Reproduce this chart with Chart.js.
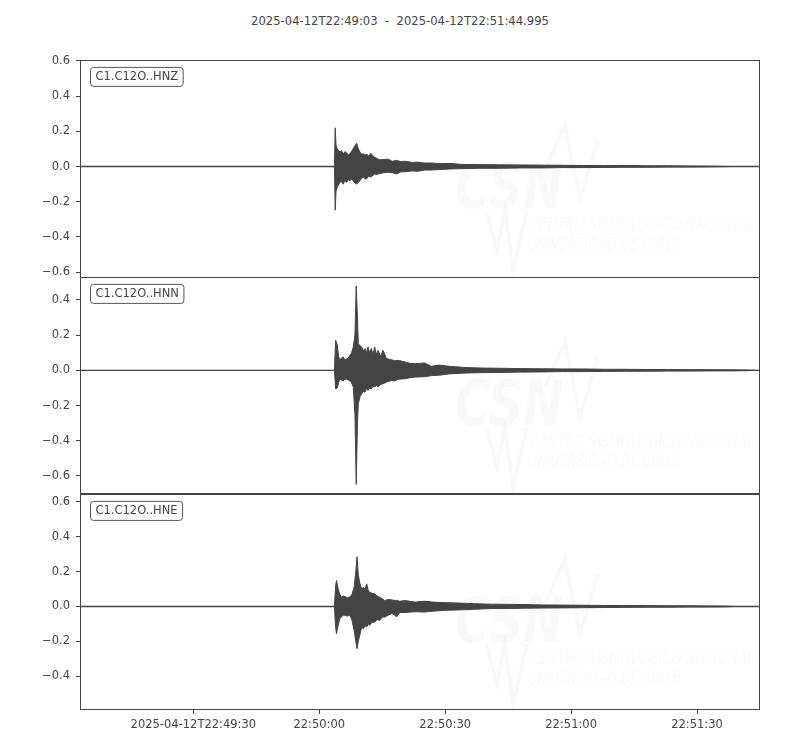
<!DOCTYPE html>
<html>
<head>
<meta charset="utf-8">
<script src="https://cdn.jsdelivr.net/npm/chart.js@4"></script>
<style>
  body { margin: 0; background: #fff; width: 800px; height: 750px; position: relative; overflow: hidden; }
  .panel { position: absolute; left: 0; width: 800px; }
  #title { position: absolute; top: 14px; left: 0; width: 800px; text-align: center;
           font: 11.6px "DejaVu Sans"; color: #444; white-space: pre; }
</style>
</head>
<body>
<div id="title">2025-04-12T22:49:03  -  2025-04-12T22:51:44.995</div>
<div class="panel" style="top:47px;height:244px"><canvas id="c0"></canvas></div>
<div class="panel" style="top:264px;height:243px"><canvas id="c1"></canvas></div>
<div class="panel" style="top:481px;height:269px"><canvas id="c2"></canvas></div>
<script>
// seconds after 2025-04-12T22:49:03
const traceEnd = 161.995;
const xTicks = [27, 57, 87, 117, 147];
const xTickLabels = ['2025-04-12T22:49:30', '22:50:00', '22:50:30', '22:51:00', '22:51:30'];

const channels = ['C1.C12O..HNZ', 'C1.C12O..HNN', 'C1.C12O..HNE'];

// envelope of each trace (time, upper, lower)
const hnzTime = [60.6, 60.8, 61.0, 61.3, 61.9, 62.3, 62.7, 63.1, 63.5, 63.9, 64.3, 64.8, 65.3, 65.9, 66.3, 66.7,
  67.1, 67.5, 67.9, 68.3, 68.8, 69.3, 69.8, 70.2, 70.8, 71.4, 72.4, 73.4, 74.4, 75.4, 76.4, 77.4, 79.0, 80.5,
  82.0, 83.7, 86, 88, 91, 95, 100, 105, 110, 115, 120, 125, 130, 135, 140, 145, 150, 155];
const hnzUpper = [0, 0.22, 0.12, 0.10, 0.082, 0.09, 0.072, 0.085, 0.078, 0.065, 0.072, 0.09, 0.11, 0.133, 0.10, 0.082,
  0.07, 0.072, 0.065, 0.07, 0.06, 0.075, 0.06, 0.053, 0.045, 0.038, 0.04, 0.042, 0.03, 0.035, 0.028, 0.03, 0.024, 0.025,
  0.02, 0.02, 0.016, 0.018, 0.012, 0.011, 0.01, 0.009, 0.008, 0.007, 0.006, 0.005, 0.006, 0.004, 0.004, 0.003, 0.002, 0];
const hnzLower = [0, -0.248, -0.14, -0.118, -0.09, -0.085, -0.10, -0.08, -0.09, -0.075, -0.08, -0.07, -0.09, -0.10, -0.09, -0.08,
  -0.065, -0.06, -0.07, -0.07, -0.055, -0.06, -0.05, -0.042, -0.045, -0.04, -0.035, -0.032, -0.035, -0.042, -0.03, -0.03, -0.025, -0.027,
  -0.02, -0.02, -0.017, -0.014, -0.012, -0.01, -0.01, -0.008, -0.008, -0.006, -0.006, -0.005, -0.004, -0.004, -0.003, -0.003, -0.002, 0];

const hnnTime = [60.6, 60.9, 61.3, 61.6, 61.9, 62.3, 62.7, 63.1, 63.5, 63.9, 64.3, 64.7, 65.1, 65.5, 65.8, 66.1, 66.3,
  66.7, 67.1, 67.5, 67.9, 68.3, 68.6, 69.0, 69.4, 69.8, 70.2, 70.6, 71.0, 71.6, 72.2, 73.0, 74.2, 75.0, 75.8, 77.4,
  78.6, 79.8, 82.1, 83.7, 85.5, 88, 92, 96, 100, 105, 110, 115, 120, 125, 130, 135, 140, 145, 150, 155, 159, 161];
const hnnUpper = [0, 0.171, 0.143, 0.08, 0.057, 0.07, 0.076, 0.06, 0.065, 0.07, 0.086, 0.10, 0.133, 0.2, 0.48, 0.3, 0.152,
  0.14, 0.133, 0.11, 0.124, 0.1, 0.133, 0.1, 0.124, 0.09, 0.133, 0.09, 0.114, 0.08, 0.114, 0.067, 0.06, 0.055, 0.057, 0.048,
  0.04, 0.038, 0.042, 0.023, 0.03, 0.023, 0.016, 0.013, 0.012, 0.01, 0.009, 0.008, 0.008, 0.006, 0.006, 0.005, 0.005, 0.004, 0.004, 0.003, 0.002, 0];
const hnnLower = [0, -0.105, -0.10, -0.07, -0.048, -0.055, -0.06, -0.05, -0.05, -0.055, -0.06, -0.07, -0.095, -0.25, -0.648, -0.3, -0.19,
  -0.15, -0.133, -0.12, -0.124, -0.1, -0.114, -0.1, -0.105, -0.09, -0.095, -0.085, -0.095, -0.08, -0.076, -0.067, -0.057, -0.06, -0.05, -0.048,
  -0.042, -0.038, -0.036, -0.03, -0.028, -0.02, -0.015, -0.013, -0.012, -0.01, -0.009, -0.007, -0.007, -0.006, -0.005, -0.005, -0.004, -0.004, -0.003, -0.003, -0.002, 0];

const hneTime = [60.6, 60.9, 61.1, 61.5, 61.9, 62.3, 62.7, 63.1, 63.7, 64.3, 64.8, 65.3, 65.7, 66.0, 66.3, 66.7, 67.1,
  67.5, 67.9, 68.3, 68.7, 69.0, 69.6, 70.2, 70.8, 71.4, 72.0, 72.6, 73.4, 74.2, 74.8, 75.4, 76.2, 77.4, 79.8, 82.1,
  84.1, 87, 90, 94, 98, 102, 106, 110, 115, 120, 125, 130, 135, 140, 145, 150, 154, 156];
const hneUpper = [0, 0.12, 0.149, 0.101, 0.07, 0.053, 0.06, 0.057, 0.05, 0.055, 0.07, 0.11, 0.2, 0.286, 0.18, 0.13, 0.1,
  0.11, 0.1, 0.13, 0.09, 0.082, 0.075, 0.072, 0.06, 0.053, 0.045, 0.034, 0.04, 0.038, 0.035, 0.035, 0.03, 0.034, 0.025, 0.03,
  0.025, 0.022, 0.02, 0.016, 0.013, 0.012, 0.011, 0.009, 0.008, 0.007, 0.006, 0.005, 0.005, 0.004, 0.004, 0.003, 0.002, 0];
const hneLower = [0, -0.12, -0.156, -0.108, -0.07, -0.061, -0.05, -0.051, -0.055, -0.051, -0.08, -0.137, -0.2, -0.242, -0.2, -0.16, -0.12,
  -0.128, -0.11, -0.118, -0.1, -0.108, -0.09, -0.09, -0.075, -0.08, -0.06, -0.061, -0.05, -0.042, -0.045, -0.06, -0.035, -0.034, -0.03, -0.032,
  -0.027, -0.022, -0.02, -0.016, -0.012, -0.012, -0.01, -0.009, -0.008, -0.007, -0.006, -0.005, -0.004, -0.004, -0.003, -0.003, -0.002, 0];

const yLimits = [[-0.634, 0.606], [-0.703, 0.531], [-0.594, 0.646]];
const yTicks = [
  [-0.6, -0.4, -0.2, 0.0, 0.2, 0.4, 0.6],
  [-0.6, -0.4, -0.2, 0.0, 0.2, 0.4],
  [-0.4, -0.2, 0.0, 0.2, 0.4, 0.6]
];

const traces = [
  [hnzTime, hnzUpper, hnzLower],
  [hnnTime, hnnUpper, hnnLower],
  [hneTime, hneUpper, hneLower]
];

const ink = '#444444';
const font = { family: 'DejaVu Sans', size: 11.5 };

const framePlugin = {
  id: 'frame',
  beforeDatasetsDraw(chart) {
    // very faint CSN watermark
    const { ctx, chartArea: a } = chart;
    ctx.save();
    ctx.fillStyle = 'rgba(0,0,0,0.022)';
    ctx.strokeStyle = 'rgba(0,0,0,0.022)';
    ctx.font = 'italic bold 62px "DejaVu Sans"';
    ctx.fillText('CSN', 455, a.top + 148, 108);
    ctx.font = 'italic 17px "DejaVu Sans"';
    ctx.fillText('CENTRO SISMOLÓGICO NACIONAL', 530, a.top + 170, 224);
    ctx.fillText('UNIVERSIDAD DE CHILE', 528, a.top + 190, 152);
    ctx.lineWidth = 4;
    ctx.beginPath();
    ctx.moveTo(486, a.top + 150);
    ctx.lineTo(497, a.top + 190);
    ctx.lineTo(505, a.top + 150);
    ctx.lineTo(513, a.top + 210);
    ctx.lineTo(527, a.top + 150);
    ctx.moveTo(545, a.top + 110);
    ctx.lineTo(565, a.top + 65);
    ctx.lineTo(580, a.top + 140);
    ctx.lineTo(598, a.top + 80);
    ctx.stroke();
    ctx.restore();
  },
  afterDraw(chart) {
    const { ctx, chartArea: a } = chart;
    const i = chart.options.plugins.frame.index;
    ctx.save();
    ctx.strokeStyle = ink;
    ctx.lineWidth = 1;
    ctx.strokeRect(Math.round(a.left) + 0.5, Math.round(a.top) + 0.5,
      Math.round(a.right - a.left) - 1, Math.round(a.bottom - a.top) - 1);
    // channel label box
    ctx.font = '11.5px "DejaVu Sans"';
    const label = channels[i];
    const w = ctx.measureText(label).width;
    const bx = 90.5, by = a.top + 7.5, bw = w + 10, bh = 19;
    ctx.fillStyle = '#fff';
    ctx.strokeStyle = '#555';
    ctx.beginPath();
    ctx.roundRect(bx, by, bw, bh, 3);
    ctx.fill();
    ctx.stroke();
    ctx.fillStyle = ink;
    ctx.textBaseline = 'middle';
    ctx.fillText(label, bx + 5, by + bh / 2 + 0.5);
    ctx.restore();
  }
};

function makeChart(i) {
  const [t, up, lo] = traces[i];
  const last = i === 2;
  const upperData = t.map((x, k) => ({ x: x, y: up[k] }));
  const lowerData = t.map((x, k) => ({ x: x, y: lo[k] }));
  new Chart(document.getElementById('c' + i), {
    type: 'line',
    data: {
      datasets: [
        { data: [{ x: 0, y: 0 }, { x: traceEnd, y: 0 }], borderColor: ink, borderWidth: 1.4, fill: false },
        { data: upperData, borderColor: ink, borderWidth: 1, fill: false },
        { data: lowerData, borderColor: ink, borderWidth: 1, backgroundColor: ink, fill: '-1' }
      ]
    },
    options: {
      responsive: true,
      maintainAspectRatio: false,
      animation: false,
      layout: { padding: { left: 0, right: 40, top: 0, bottom: 0 } },
      elements: { point: { radius: 0 }, line: { tension: 0 } },
      plugins: {
        legend: { display: false },
        tooltip: { enabled: false },
        frame: { index: i }
      },
      scales: {
        x: {
          type: 'linear',
          min: 0,
          max: traceEnd,
          display: last,
          afterFit(scale) { scale.height = last ? 40 : 0; },
          afterBuildTicks(scale) { scale.ticks = xTicks.map(v => ({ value: v })); },
          grid: { drawOnChartArea: false, drawTicks: true, tickLength: 4, color: ink },
          border: { display: false },
          ticks: {
            autoSkip: false,
            maxRotation: 0,
            padding: 4,
            color: ink,
            font: font,
            callback: (v) => xTickLabels[xTicks.indexOf(v)]
          }
        },
        y: {
          min: yLimits[i][0],
          max: yLimits[i][1],
          afterFit(scale) { scale.width = 80; },
          afterBuildTicks(scale) { scale.ticks = yTicks[i].map(v => ({ value: v })); },
          grid: { drawOnChartArea: false, drawTicks: true, tickLength: 4, color: ink },
          border: { display: false },
          ticks: {
            padding: 6,
            color: ink,
            font: font,
            callback: (v) => v.toFixed(1).replace('-', '\u2212')
          }
        }
      }
    },
    plugins: [framePlugin]
  });
}

for (let i = 0; i < 3; i++) makeChart(i);
</script>
</body>
</html>
